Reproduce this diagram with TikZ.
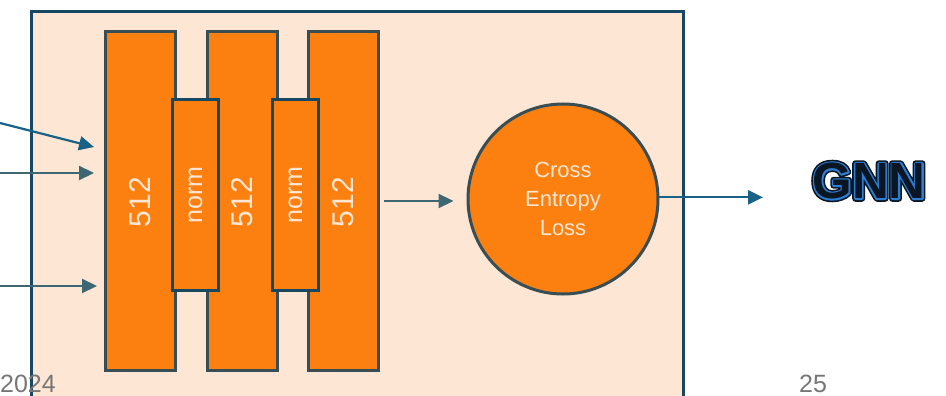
\documentclass[tikz,border=0pt]{standalone}
\usepackage{fontspec}
\setmainfont{Liberation Sans}
\usetikzlibrary{arrows.meta,calc}
\definecolor{frameblue}{RGB}{22,72,100}
\definecolor{peach}{RGB}{253,230,212}
\definecolor{barorange}{RGB}{252,128,16}
\definecolor{barline}{RGB}{56,78,84}
\definecolor{arrowblue}{RGB}{24,98,135}
\definecolor{arrowteal}{RGB}{61,104,115}
\definecolor{footgray}{RGB}{118,118,118}
\definecolor{gnndark}{RGB}{10,22,35}
\definecolor{gnnblue}{RGB}{45,125,210}
\newcommand{\strokedtext}[2]{\special{pdf:literal direct 2 Tr #1 w 1 j}#2\special{pdf:literal direct 0 Tr}}
\begin{document}
\begin{tikzpicture}[x=1pt,y=-1pt,
  barbox/.style={draw=barline, line width=3pt, fill=barorange, minimum width=70pt, minimum height=338pt, inner sep=0pt},
  normbox/.style={draw=frameblue, line width=3pt, fill=barorange, minimum width=46pt, minimum height=190pt, inner sep=0pt},
  bartext/.style={text=peach, rotate=90, font=\fontsize{30}{36}\selectfont, inner sep=0pt},
  normtext/.style={text=peach, rotate=90, font=\fontsize{25}{30}\selectfont, inner sep=0pt},
  conn/.style={line width=2.2pt, -{Triangle[length=15pt,width=14pt]}},
  foot/.style={text=footgray, font=\fontsize{25}{30}\selectfont, inner sep=0pt},
  gnnfont/.style={font=\fontsize{51}{58}\selectfont\bfseries, inner sep=0pt}
]
\useasboundingbox (0,0) rectangle (946,396);
% frame
\node[draw=frameblue, line width=3pt, fill=peach, minimum width=652.5pt, minimum height=395pt, inner sep=0pt, anchor=north west] (frame) at (29.5,10) {};
% bars
\node[barbox] (b1) at (140,201) {};
\node[barbox] (b2) at (242,201) {};
\node[barbox] (b3) at (343.5,201) {};
\node[bartext] (t1) at (140,202) {512};
\node[bartext] (t2) at (242,202) {512};
\node[bartext] (t3) at (343.5,202) {512};
% norms
\node[normbox] (n1) at (195.5,195) {};
\node[normbox] (n2) at (295.5,195) {};
\node[normtext] (nt1) at (n1.center) {norm};
\node[normtext] (nt2) at (n2.center) {norm};
% loss circle
\node[circle, draw=barline, line width=3pt, fill=barorange, minimum size=190pt, inner sep=0pt,
      text=peach, align=center, font=\fontsize{22}{29}\selectfont] (ce) at (563,199) {Cross\\Entropy\\Loss};
% inputs
\coordinate (s1) at (0,123);
\coordinate (e1) at (94,147);
\coordinate (s2) at (0,173);
\coordinate (e2) at (94,173);
\coordinate (s3) at (0,286);
\coordinate (e3) at (97,286);
\draw[conn, arrowblue] (s1) -- (e1);
\draw[conn, arrowteal] (s2) -- (e2);
\draw[conn, arrowteal] (s3) -- (e3);
% bar3 -> loss
\coordinate (o3) at ([xshift=4pt]b3.east);
\coordinate (ci) at ([xshift=-13pt]ce.west);
\draw[conn, arrowteal] (o3) -- (o3 -| ci);
% loss -> out
\coordinate (oe) at (763,197);
\draw[conn, arrowblue] (ce.1) -- (ce.1 -| oe);
% GNN logo
\node[gnnfont, text=gnndark] (gnnA) at (869,181) {\strokedtext{6.4}{GNN}};
\node[gnnfont, text=gnnblue] (gnnB) at (gnnA.center) {\strokedtext{3.2}{GNN}};
\node[gnnfont, text=gnndark] (gnn) at (gnnA.center) {GNN};
% footer
\node[foot, anchor=base west] (yr) at (0,392) {2024};
\node[foot, anchor=base] (pg) at (813,392) {25};
\end{tikzpicture}
\end{document}
